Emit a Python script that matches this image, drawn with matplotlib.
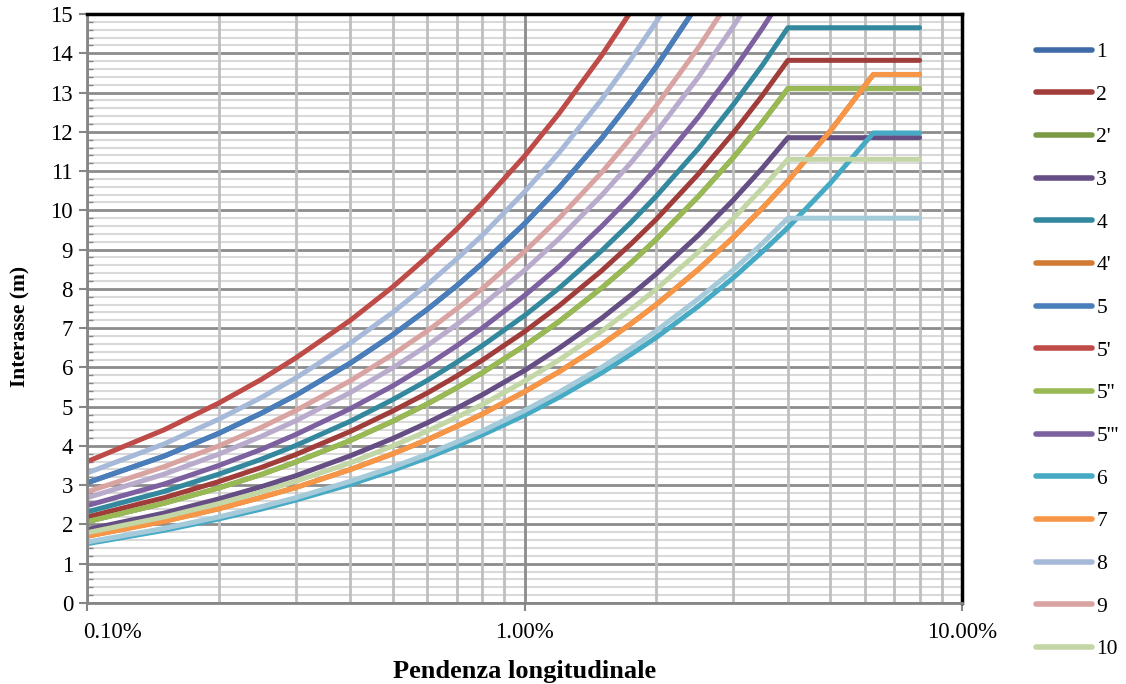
import numpy as np
import matplotlib
matplotlib.use("Agg")
import matplotlib.pyplot as plt
import matplotlib.transforms as mtransforms
from matplotlib.ticker import FixedLocator, NullFormatter, MultipleLocator

plt.rcParams['font.family'] = ['Liberation Serif', 'DejaVu Serif']

# slope (%) sample positions
slope_pct = [0.1, 0.15, 0.2, 0.25, 0.3, 0.4, 0.5, 0.6, 0.7, 0.8, 1.0, 1.2, 1.5, 1.75,
             2.0, 2.5, 3.0, 3.5, 4.0, 5.0, 6.27, 8.0]
nan = np.nan

s_5p   = [3.60, 4.41, 5.09, 5.69, 6.24, 7.20, 8.05, 8.82, 9.52, 10.18, 11.38, 12.47, 13.94, 15.06,
          16.10, nan, nan, nan, nan, nan, nan, nan]
s_8    = [3.31, 4.05, 4.68, 5.23, 5.73, 6.62, 7.40, 8.11, 8.76, 9.36, 10.47, 11.47, 12.82, 13.85,
          14.80, 16.55, nan, nan, nan, nan, nan, nan]
s_5    = [3.06, 3.74, 4.32, 4.83, 5.29, 6.11, 6.83, 7.48, 8.08, 8.64, 9.66, 10.58, 11.83, 12.78,
          13.66, 15.28, nan, nan, nan, nan, nan, nan]
s_1    = list(s_5)
s_9    = [2.83, 3.47, 4.00, 4.47, 4.90, 5.66, 6.33, 6.93, 7.49, 8.00, 8.95, 9.80, 10.96, 11.84,
          12.66, 14.15, 15.50, nan, nan, nan, nan, nan]
s_11   = [2.68, 3.28, 3.79, 4.24, 4.64, 5.36, 5.99, 6.56, 7.09, 7.58, 8.47, 9.28, 10.38, 11.21,
          11.99, 13.40, 14.68, 15.86, nan, nan, nan, nan]
s_5ppp = [2.48, 3.03, 3.50, 3.91, 4.29, 4.95, 5.53, 6.06, 6.55, 7.00, 7.83, 8.57, 9.59, 10.35,
          11.07, 12.38, 13.56, 14.64, 15.65, nan, nan, nan]
s_4    = [2.32, 2.84, 3.28, 3.66, 4.01, 4.63, 5.18, 5.67, 6.13, 6.55, 7.32, 8.02, 8.97, 9.69,
          10.36, 11.58, 12.69, 13.70, 14.65, 14.65, 14.65, 14.65]
s_2    = [2.19, 2.68, 3.09, 3.45, 3.78, 4.37, 4.89, 5.35, 5.78, 6.18, 6.91, 7.57, 8.46, 9.14,
          9.77, 10.93, 11.97, 12.93, 13.82, 13.82, 13.82, 13.82]
s_5pp  = [2.07, 2.54, 2.93, 3.27, 3.59, 4.14, 4.63, 5.07, 5.48, 5.86, 6.55, 7.17, 8.02, 8.66,
          9.26, 10.36, 11.34, 12.25, 13.10, 13.10, 13.10, 13.10]
s_2p   = list(s_5pp)
s_3    = [1.87, 2.29, 2.65, 2.96, 3.24, 3.75, 4.19, 4.59, 4.96, 5.30, 5.92, 6.49, 7.25, 7.84,
          8.38, 9.37, 10.26, 11.08, 11.85, 11.85, 11.85, 11.85]
s_10   = [1.79, 2.19, 2.53, 2.83, 3.10, 3.57, 4.00, 4.38, 4.73, 5.05, 5.65, 6.19, 6.92, 7.48,
          7.99, 8.94, 9.79, 10.57, 11.30, 11.30, 11.30, 11.30]
s_7    = [1.70, 2.08, 2.40, 2.69, 2.94, 3.40, 3.80, 4.16, 4.50, 4.81, 5.38, 5.89, 6.58, 7.11,
          7.60, 8.50, 9.31, 10.06, 10.75, 12.02, 13.46, 13.46]
s_4p   = list(s_7)
s_12   = [1.55, 1.90, 2.19, 2.45, 2.68, 3.10, 3.46, 3.79, 4.10, 4.38, 4.90, 5.37, 6.00, 6.48,
          6.93, 7.75, 8.48, 9.16, 9.80, 9.80, 9.80, 9.80]
s_6    = [1.51, 1.85, 2.14, 2.39, 2.62, 3.02, 3.38, 3.70, 4.00, 4.28, 4.78, 5.24, 5.86, 6.33,
          6.76, 7.56, 8.28, 8.95, 9.56, 10.69, 11.97, 11.97]

names = ["1", "2", "2'", "3", "4", "4'", "5", "5'", "5''", "5'''", "6", "7", "8", "9", "10", "11", "12"]
series = [s_1, s_2, s_2p, s_3, s_4, s_4p, s_5, s_5p, s_5pp, s_5ppp, s_6, s_7, s_8, s_9, s_10, s_11, s_12]
colors = ["#3F6CA8", "#A03D3A", "#7A9A45", "#644E84", "#33889E", "#D27B34",
          "#4A7EBB", "#BE4B48", "#98B954", "#7D60A0", "#46AAC5", "#F79646",
          "#A7B9D8", "#D9A3A2", "#C3D6A5", "#B8ABCC", "#A5CAD9"]

x_ticks = [0.1, 1.0, 10.0]
x_ticklabels = ["0.10%", "1.00%", "10.00%"]
y_ticks = list(range(0, 16))

fig = plt.figure(figsize=(11.26, 6.84), dpi=100)
ax = fig.add_axes([87/1126, 1-603/684, (962-87)/1126, (603-14)/684])

x = np.array(slope_pct)
handles = []
for nm, ys, c in zip(names, series, colors):
    ln, = ax.plot(x, ys, color=c, lw=3.6, solid_capstyle='round', solid_joinstyle='round',
                  label=nm, zorder=3)
    handles.append(ln)

ax.set_xscale('log')
ax.set_xlim(0.1, 10.0)
ax.set_ylim(0, 15)
ax.xaxis.set_major_locator(FixedLocator(x_ticks))
ax.set_xticklabels(x_ticklabels)
ax.xaxis.set_minor_locator(FixedLocator([m * d for d in (0.1, 1.0) for m in range(2, 10)]))
ax.xaxis.set_minor_formatter(NullFormatter())
ax.yaxis.set_major_locator(FixedLocator(y_ticks))
ax.yaxis.set_minor_locator(MultipleLocator(0.2))

ax.grid(which='minor', axis='y', color='#D9D9D9', lw=1.5)
ax.grid(which='major', axis='y', color='#8C8C8C', lw=2.0)
ax.grid(which='minor', axis='x', color='#BFBFBF', lw=2.0)
ax.grid(which='major', axis='x', color='#8C8C8C', lw=2.0)
ax.set_axisbelow(True)
ax.yaxis.set_zorder(0.4)
ax.xaxis.set_zorder(0.45)

for side in ('top', 'right'):
    ax.spines[side].set_color('black')
    ax.spines[side].set_linewidth(2.5)
    ax.spines[side].set_zorder(4)
for side in ('left', 'bottom'):
    ax.spines[side].set_color('#868686')
    ax.spines[side].set_linewidth(2.0)
    ax.spines[side].set_zorder(4)

ax.tick_params(axis='both', which='major', labelsize=16.5, length=6, width=1.5,
               color='#868686', direction='out')
ax.tick_params(axis='y', which='minor', length=4, width=1.0, color='#868686', direction='in')
ax.tick_params(axis='x', which='minor', length=0)
ax.tick_params(axis='x', which='major', pad=8)
ax.tick_params(axis='y', which='major', pad=4)

first = ax.get_xticklabels()[0]
first.set_transform(first.get_transform() + mtransforms.ScaledTranslation(25/100, 0, fig.dpi_scale_trans))

ax.set_ylabel("Interasse (m)", fontsize=15.5, fontweight='bold')
ax.yaxis.set_label_coords(-(87-30)/875, 0.469)
ax.set_xlabel("Pendenza longitudinale", fontsize=19, fontweight='bold', labelpad=12)

leg = fig.legend(handles[:15], names[:15], loc='upper left', bbox_to_anchor=(1036/1126, 1-42/684),
                 frameon=False, fontsize=15.5, handlelength=2.6, handletextpad=0.2,
                 labelspacing=1.05, borderaxespad=0, borderpad=0)
for lh in leg.get_lines():
    lh.set_linewidth(4)

fig.savefig("out.png", dpi=100)
